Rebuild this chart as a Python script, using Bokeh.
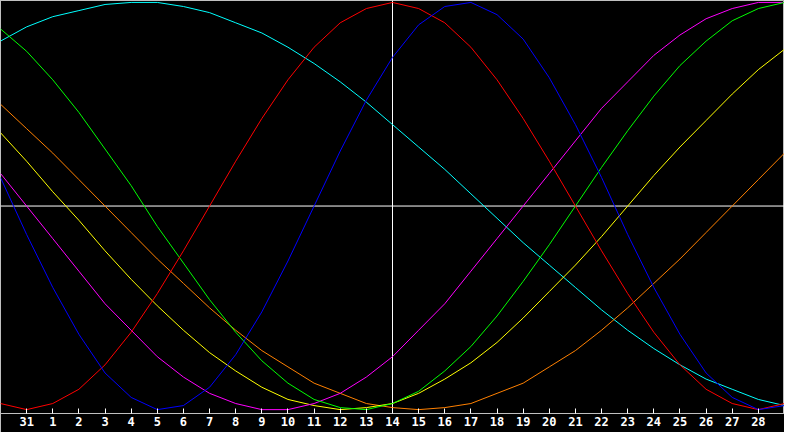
from bokeh.plotting import figure
from bokeh.models import Range1d, Span, FixedTicker
from bokeh.embed import file_html
from bokeh.resources import INLINE

# Day labels for each sample (first and last are the partial days at the edges)
days = ["30", "31", "1", "2", "3", "4", "5", "6", "7", "8", "9", "10", "11", "12",
        "13", "14", "15", "16", "17", "18", "19", "20", "21", "22", "23", "24",
        "25", "26", "27", "28", "29"]
labelled_days = days[1:30]
today = "14"

# Cycle values in percent, one per day
physical_23 = [14, -14, -40, -63, -82, -94, -100, -98, -89, -73, -52, -27, 0, 27, 52,
               73, 89, 98, 100, 94, 82, 63, 40, 14, -14, -40, -63, -82, -94, -100, -98]
emotional_28 = [-97, -100, -97, -90, -78, -62, -43, -22, 0, 22, 43, 62, 78, 90, 97,
                100, 97, 90, 78, 62, 43, 22, 0, -22, -43, -62, -78, -90, -97, -100, -97]
intellectual_33 = [87, 76, 62, 46, 28, 10, -10, -28, -46, -62, -76, -87, -95, -99, -100,
                   -97, -91, -81, -69, -54, -37, -19, 0, 19, 37, 54, 69, 81, 91, 97, 100]
intuitive_38 = [16, 0, -16, -32, -48, -61, -74, -84, -92, -97, -100, -100, -97, -92, -84,
                -74, -61, -48, -32, -16, 0, 16, 32, 48, 61, 74, 84, 92, 97, 100, 100]
aesthetic_43 = [36, 22, 7, -7, -22, -36, -49, -61, -72, -81, -89, -95, -98, -100, -99,
                -97, -92, -85, -77, -67, -55, -42, -29, -15, 0, 15, 29, 42, 55, 67, 77]
awareness_48 = [50, 38, 26, 13, 0, -13, -26, -38, -50, -61, -71, -79, -87, -92, -97,
                -99, -100, -99, -97, -92, -87, -79, -71, -61, -50, -38, -26, -13, 0, 13, 26]
spiritual_53 = [81, 88, 93, 96, 99, 100, 100, 98, 95, 90, 85, 78, 70, 61, 51, 40, 29,
                18, 6, -6, -18, -29, -40, -51, -61, -70, -78, -85, -90, -95, -98]

series = [
    (spiritual_53, "#00ffff"),
    (awareness_48, "#ff8000"),
    (aesthetic_43, "#ffff00"),
    (intuitive_38, "#ff00ff"),
    (intellectual_33, "#00ff00"),
    (emotional_28, "#ff0000"),
    (physical_23, "#0000ff"),
]

xs = list(range(len(days)))

p = figure(width=784, height=432, output_backend="svg", toolbar_location=None,
           x_range=Range1d(0, len(days) - 1), y_range=Range1d(-101.9, 100.95),
           y_axis_location=None, min_border=0, min_border_bottom=19)
p.background_fill_color = "black"
p.border_fill_color = "black"
p.outline_line_color = "#c0c0c0"
p.grid.visible = False

p.add_layout(Span(location=days.index(today), dimension="height",
                  line_color="white", line_width=1, level="underlay"))
p.add_layout(Span(location=0, dimension="width",
                  line_color="white", line_width=1, level="underlay"))

for vals, col in series:
    p.line(xs, vals, line_color=col, line_width=1)

tick_pos = [days.index(d, 1) for d in labelled_days]
ax = p.xaxis[0]
ax.ticker = FixedTicker(ticks=tick_pos)
ax.major_label_overrides = {t: days[t] for t in tick_pos}
ax.axis_line_color = "#c0c0c0"
ax.major_tick_line_color = "white"
ax.major_tick_in = 5
ax.major_tick_out = 0
ax.minor_tick_line_color = None
ax.major_label_text_color = "white"
ax.major_label_text_font = "DejaVu Sans Mono"
ax.major_label_text_font_style = "bold"
ax.major_label_text_font_size = "12px"
ax.major_label_standoff = 3

open("out.html", "w").write(file_html(p, INLINE))
